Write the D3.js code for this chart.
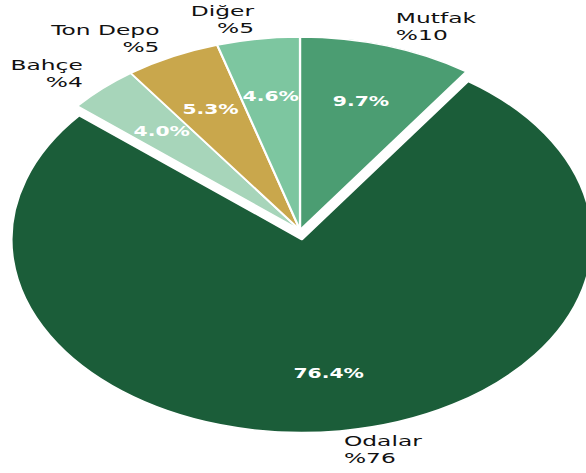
<!DOCTYPE html>
<html>
<head>
<meta charset="utf-8">
<script src="https://cdn.jsdelivr.net/npm/d3@7"></script>
<style>
  body { margin: 0; background: #fff; }
  svg { display: block; }
  text { font-family: "DejaVu Sans", sans-serif; }
</style>
</head>
<body>
<svg width="586" height="473"></svg>
<script>
// slices clockwise from 12 o'clock
const labels = ["Mutfak", "Odalar", "Bahçe", "Ton Depo", "Diğer"];
const values = [9.7, 76.4, 4.0, 5.3, 4.6];
const colors = ["#4b9d72", "#1b5d39", "#a7d5ba", "#c9a74c", "#7dc6a0"];
const explode = [0, 0.05, 0, 0, 0];

const svg = d3.select('svg');
const R = 193;
const stretchX = 1.505;

const g = svg.append('g')
  .attr('transform', 'translate(300,230) scale(' + stretchX + ',1)');

const pie = d3.pie().sort(null).value(d => d.v);
const data = pie(labels.map((l, i) => ({ label: l, v: values[i], i: i })));

const arc = d3.arc().innerRadius(0).outerRadius(R);

function polar(a, r) {
  return [r * Math.sin(a), -r * Math.cos(a)];
}

const slices = g.selectAll('g.slice')
  .data(data)
  .enter()
  .append('g')
  .attr('class', 'slice')
  .attr('transform', function(d) {
    const mid = (d.startAngle + d.endAngle) / 2;
    const off = polar(mid, explode[d.data.i] * R);
    return 'translate(' + off[0] + ',' + off[1] + ')';
  });

slices.append('path')
  .attr('d', arc)
  .attr('fill', d => colors[d.data.i])
  .attr('stroke', '#fff')
  .attr('stroke-width', 1.5)
  .attr('stroke-linejoin', 'round');

// percentage labels
slices.append('text')
  .attr('x', d => polar((d.startAngle + d.endAngle) / 2, R * 0.7)[0])
  .attr('y', d => polar((d.startAngle + d.endAngle) / 2, R * 0.7)[1])
  .attr('dy', '0.36em')
  .attr('text-anchor', 'middle')
  .attr('fill', '#fff')
  .attr('font-weight', 'bold')
  .attr('font-size', '13.5px')
  .text(d => d.data.v.toFixed(1) + '%');

// outer labels, two lines
const outer = slices.append('text')
  .attr('font-size', '14.5px')
  .attr('fill', '#111')
  .attr('text-anchor', function(d) {
    const p = polar((d.startAngle + d.endAngle) / 2, R * 1.1);
    return p[0] >= 0 ? 'start' : 'end';
  })
  .attr('transform', function(d) {
    const p = polar((d.startAngle + d.endAngle) / 2, R * 1.1);
    return 'translate(' + p[0] + ',' + p[1] + ') scale(1.07,1)';
  });

outer.append('tspan')
  .attr('x', 0)
  .attr('y', -4)
  .text(d => d.data.label);

outer.append('tspan')
  .attr('x', 0)
  .attr('y', 13)
  .text(d => '%' + Math.round(d.data.v));
</script>
</body>
</html>
